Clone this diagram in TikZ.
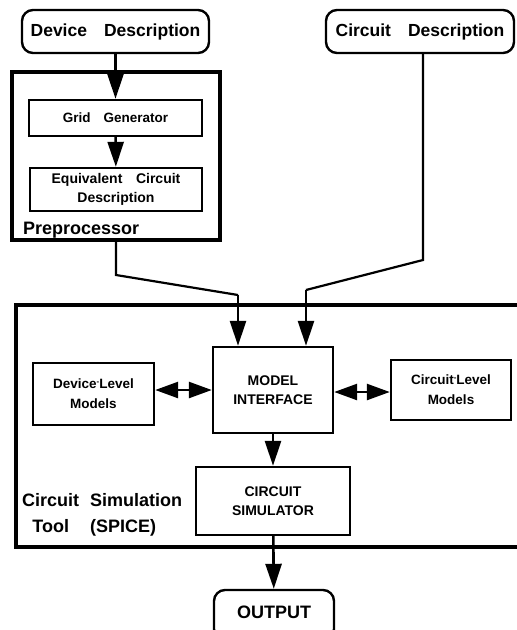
\documentclass[tikz,border=0pt]{standalone}
\usepackage{fontspec}
\setmainfont{Liberation Sans}[WordSpace=3.5]
\usetikzlibrary{arrows.meta}
\begin{document}
\begin{tikzpicture}[x=1pt,y=-1pt,
  big/.style={font=\bfseries\fontsize{17.5}{21}\selectfont},
  bigger/.style={font=\bfseries\fontsize{18}{26}\selectfont},
  mid/.style={font=\bfseries\fontsize{14}{19.5}\selectfont},
  sml/.style={font=\bfseries\fontsize{13.5}{20}\selectfont},
  rbox/.style={draw, rounded corners=11pt, line width=2.4pt, inner sep=0pt, align=center},
  sbox/.style={draw, line width=2.4pt, inner sep=0pt, align=center},
  frame/.style={draw, line width=3.2pt, inner sep=0pt},
  arr/.style={line width=2.6pt, -{Triangle[length=25pt,width=16pt]}},
  darr/.style={line width=2.6pt, {Triangle[length=23pt,width=16pt]}-{Triangle[length=23pt,width=16pt]}},
  wire/.style={line width=2.2pt, line join=miter},
]
\useasboundingbox (0,0) rectangle (517,630);
\clip (0,0) rectangle (517,630);

% top inputs
\node[rbox, big, minimum width=187, minimum height=43] (devdesc) at (115.5,31.5) {Device Description};
\node[rbox, big, minimum width=188, minimum height=43] (cirdesc) at (420,31.5) {Circuit Description};

% preprocessor
\node[frame, minimum width=208, minimum height=168] (prep) at (116,156) {};
\node[sbox, sml, minimum width=173, minimum height=36] (grid) at (115.5,118) {Grid Generator};
\node[sbox, mid, minimum width=172, minimum height=43] (equiv) at (116,189.5) {Equivalent Circuit\\Description};
\node[bigger, anchor=base west, inner sep=0pt] (preplabel) at (23,234) {Preprocessor};

% simulation tool frame (open to the right)
\node[frame, minimum width=560, minimum height=242] (spice) at (296,426) {};
\node[mid, sbox, minimum width=120, minimum height=86] (mi) at (273,390) {MODEL\\INTERFACE};
\node[sml, sbox, minimum width=121, minimum height=62] (dlm) at (93.5,394) {Device\raisebox{0.35em}{\fontsize{8}{8}\selectfont-}Level\\Models};
\node[sml, sbox, minimum width=120, minimum height=60] (clm) at (451,390) {Circuit\raisebox{0.35em}{\fontsize{8}{8}\selectfont-}Level\\Models};
\node[mid, sbox, minimum width=154, minimum height=68] (cs) at (273,501) {CIRCUIT\\SIMULATOR};
\node[bigger, anchor=base west, inner sep=0pt] (spicelabel) at (22,506)
  {\begin{tabular}[t]{@{}c@{\hspace{11pt}}l@{}}Circuit & Simulation\\ Tool & (SPICE)\end{tabular}};

% output
\node[rbox, bigger, minimum width=120, minimum height=50, text depth=6pt] (out) at (274,615) {OUTPUT};

% connectors
\coordinate (j1) at (116,275);
\coordinate (j2) at (238,295);
\coordinate (k1) at (423,260);
\coordinate (k2) at (306,290);
\coordinate (ly1) at (0,390);
\coordinate (ly2) at (0,392);

\draw[arr] (devdesc) -- (grid);
\draw[arr] (grid) -- (equiv);
\draw[wire] (prep.south) -- (j1) -- (j2);
\draw[arr] (j2) -- (j2 |- mi.north);
\draw[wire] (cirdesc.south -| k1) -- (k1) -- (k2);
\draw[arr] (k2) -- (k2 |- mi.north);
\draw[darr] (dlm.east |- ly1) -- (mi.west |- ly1);
\draw[darr] (mi.east |- ly2) -- (clm.west |- ly2);
\draw[arr] (mi) -- (cs);
\draw[arr] (cs) -- (out);
\end{tikzpicture}
\end{document}
